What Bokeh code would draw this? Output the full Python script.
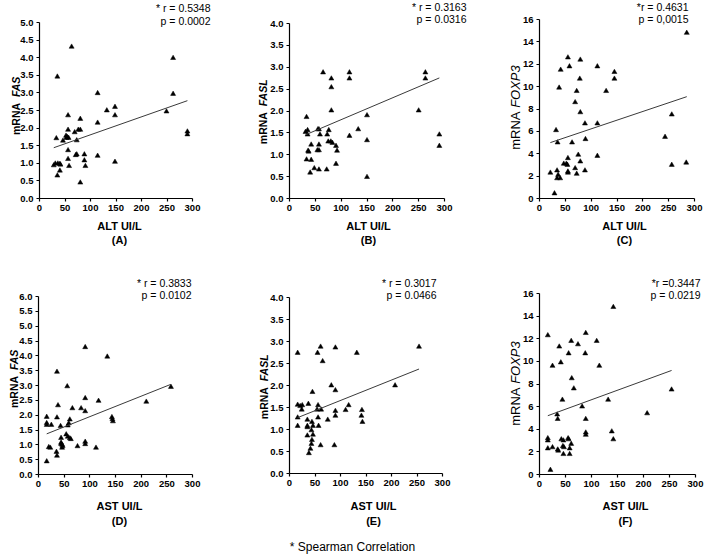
from bokeh.plotting import figure
from bokeh.models import Label, Range1d, FixedTicker, NumeralTickFormatter, ColumnDataSource
from bokeh.layouts import column, row
from bokeh.embed import file_html
from bokeh.resources import INLINE
import numpy as np

FONT = "Liberation Sans"

# ---------------- data ----------------
x_ticks = [0, 50, 100, 150, 200, 250, 300]
fas_ticks = [0.0, 0.5, 1.0, 1.5, 2.0, 2.5, 3.0, 3.5, 4.0, 4.5, 5.0]
fasl_ticks = [0.0, 0.5, 1.0, 1.5, 2.0, 2.5, 3.0, 3.5, 4.0]
foxp3_ticks = [0, 2, 4, 6, 8, 10, 12, 14, 16]
fas_d_ticks = [0.0, 0.5, 1.0, 1.5, 2.0, 2.5, 3.0, 3.5, 4.0, 4.5, 5.0, 5.5, 6.0]

# (A) ALT vs FAS
alt_a = [63, 35, 262, 262, 114, 249, 132, 148, 148, 114, 56, 80, 76, 80, 69, 56, 52, 54,
         53, 57, 33, 46, 73, 290, 290, 56, 73, 71, 56, 88, 88, 90, 58, 114, 148, 28,
         31, 36, 40, 41, 40, 35, 80]
fas_a = [4.31, 3.46, 3.99, 2.97, 2.99, 2.47, 2.50, 2.60, 2.36, 2.15, 2.36, 2.26, 1.95, 1.95,
         1.88, 1.95, 1.78, 1.75, 1.72, 1.72, 1.71, 1.64, 1.65, 1.90, 1.82, 1.37, 1.25, 1.23,
         1.12, 1.25, 1.08, 0.92, 0.92, 1.21, 1.04, 0.94, 0.99, 0.99, 0.98, 0.96, 0.79, 0.65, 0.45]
fit_a = (0.0051, 1.30)

# (B) ALT vs FASL
alt_b = [65, 116, 116, 81, 81, 81, 263, 263, 250, 33, 150, 133, 55, 57, 35, 31, 35, 59,
         73, 76, 75, 80, 83, 90, 92, 116, 150, 290, 290, 42, 57, 36, 37, 54, 57, 33,
         42, 90, 48, 40, 57, 72, 150]
fasl_b = [2.88, 2.88, 2.74, 2.74, 2.54, 2.01, 2.88, 2.74, 2.01, 1.86, 1.90, 1.58, 1.58, 1.58,
          1.56, 1.52, 1.46, 1.46, 1.46, 1.56, 1.30, 1.30, 1.27, 1.20, 1.09, 1.43, 1.33, 1.46,
          1.20, 1.23, 1.23, 1.09, 1.07, 1.10, 1.10, 0.89, 0.88, 0.79, 0.69, 0.59, 0.66, 0.66, 0.49]
fit_b = (0.00502, 1.30)

# (C) ALT vs FOXP3
alt_c = [285, 55, 79, 58, 112, 41, 145, 145, 78, 38, 72, 129, 69, 79, 256, 88, 112, 32,
         89, 243, 35, 63, 75, 112, 55, 79, 47, 52, 54, 256, 284, 69, 34, 88, 55, 55,
         21, 72, 36, 34, 40, 29]
foxp3_c = [14.8, 12.6, 12.4, 11.8, 11.8, 11.5, 11.3, 10.7, 10.7, 9.9, 9.6, 9.6, 8.6, 7.7,
           7.5, 6.7, 6.7, 6.1, 5.3, 5.5, 5.0, 5.0, 3.9, 3.8, 3.6, 3.3, 3.1, 3.1, 3.0, 3.0,
           3.2, 2.7, 2.5, 2.5, 2.4, 2.3, 2.3, 2.2, 2.1, 1.8, 1.8, 0.45]
fit_c = (0.01555, 4.67)

# (D) AST vs FAS
ast_d = [91, 134, 36, 56, 258, 91, 117, 210, 38, 66, 83, 91, 16, 36, 143, 144, 145, 16,
         16, 25, 43, 61, 59, 57, 44, 44, 44, 46, 47, 46, 54, 57, 61, 63, 76, 91,
         91, 112, 23, 20, 35, 36, 16]
fas_d = [4.29, 3.97, 3.46, 2.97, 2.95, 2.57, 2.48, 2.45, 2.33, 2.23, 2.23, 2.13, 1.94, 1.92,
         1.93, 1.86, 1.79, 1.73, 1.67, 1.67, 1.63, 1.85, 1.72, 1.65, 1.23, 1.07, 1.03, 1.00,
         0.96, 0.90, 1.35, 1.27, 1.22, 1.19, 0.95, 1.10, 1.02, 0.90, 0.90, 0.92, 0.76, 0.63, 0.44]
fit_d = (0.0069, 1.26)

# (E) AST vs FASL
ast_e = [61, 90, 254, 16, 55, 132, 65, 82, 90, 45, 207, 16, 37, 21, 25, 24, 56, 54,
         62, 116, 110, 142, 90, 90, 141, 143, 16, 56, 75, 35, 44, 16, 35, 35, 46, 57,
         43, 35, 46, 44, 43, 41, 38, 61, 88]
fasl_e = [2.88, 2.86, 2.88, 2.74, 2.74, 2.74, 2.55, 2.00, 1.89, 1.85, 2.00, 1.56, 1.58, 1.53,
          1.55, 1.45, 1.55, 1.45, 1.45, 1.55, 1.44, 1.44, 1.42, 1.31, 1.31, 1.17, 1.27, 1.27,
          1.22, 1.22, 1.17, 1.08, 1.08, 1.05, 1.08, 1.08, 0.98, 0.86, 0.88, 0.76, 0.67, 0.56,
          0.46, 0.64, 0.64]
fit_e = (0.00464, 1.196)

# (F) AST vs FOXP3
ast_f = [142, 16, 89, 61, 110, 38, 74, 56, 88, 41, 25, 115, 62, 66, 254, 44, 132, 82,
         207, 34, 35, 89, 139, 142, 89, 89, 16, 16, 42, 46, 55, 56, 45, 47, 61, 58,
         25, 16, 35, 36, 46, 58, 21]
foxp3_f = [14.8, 12.3, 12.5, 11.8, 11.8, 11.3, 11.5, 10.7, 10.7, 9.9, 9.6, 9.6, 8.5, 7.6,
           7.5, 6.6, 6.6, 6.0, 5.4, 5.3, 4.9, 4.9, 3.8, 3.1, 3.7, 3.5, 3.2, 3.0, 3.1, 3.0,
           3.2, 3.1, 2.5, 2.4, 2.7, 2.3, 2.4, 2.3, 2.2, 2.1, 1.8, 1.8, 0.4]
fit_f = (0.0168, 4.93)

# ---------------- helpers ----------------
BOLD_W = {"m": 0.889, "R": 0.722, "N": 0.722, "A": 0.722, "F": 0.611, "S": 0.667,
          "L": 0.611, "O": 0.778, "X": 0.667, "P": 0.667, "3": 0.556}
REG_W = {"m": 0.833, "R": 0.722, "N": 0.722, "A": 0.667, "F": 0.611, "S": 0.667,
         "L": 0.556, "O": 0.778, "X": 0.667, "P": 0.667, "3": 0.556}


def text_w(s, size, bold):
    tbl = BOLD_W if bold else REG_W
    return sum(tbl.get(c, 0.6) for c in s) * size


def make_panel(x, y, fit, yticks, yfmt, g, annot, xlab, sub, ylab_gene, ylab_size, ylab_bold):
    # data box (page px) and figure box (page px)
    fl, fw, ft, fh = g["frame"]
    figl, figw, figt, figh = g["fig"]
    mbl = fl - figl
    mbr = figl + figw - (fl + fw)
    mbt = ft - figt
    mbb = figt + figh - (ft + fh)
    y0, y1 = yticks[0], yticks[-1]
    kx = 300.0 / fw
    ky = (y1 - y0) / fh
    p = figure(width=figw, height=figh,
               min_border_left=0, min_border_right=0, min_border_top=0, min_border_bottom=0,
               x_range=Range1d(-mbl * kx, 300 + mbr * kx),
               y_range=Range1d(y0 - mbb * ky, y1 + mbt * ky),
               output_backend="svg", toolbar_location=None)
    p.outline_line_color = None
    p.grid.visible = False
    p.background_fill_color = "white"
    p.border_fill_color = "white"
    p.xaxis.fixed_location = y0
    p.yaxis.fixed_location = 0
    p.xaxis.bounds = (0, 300)
    p.yaxis.bounds = (y0, y1)
    for ax in (p.xaxis[0], p.yaxis[0]):
        ax.axis_line_color = "black"
        ax.axis_line_width = 1.2
        ax.major_tick_line_color = "black"
        ax.major_tick_line_width = 1.2
        ax.major_tick_in = 0
        ax.major_tick_out = 3
        ax.minor_tick_line_color = None
        ax.major_label_text_font = FONT
        ax.major_label_text_font_style = "bold"
        ax.major_label_text_font_size = "9.5px"
        ax.major_label_text_color = "black"
        ax.major_label_standoff = 3
    p.xaxis.ticker = FixedTicker(ticks=x_ticks)
    p.yaxis.ticker = FixedTicker(ticks=yticks)
    p.yaxis.formatter = NumeralTickFormatter(format=yfmt)

    src = ColumnDataSource(dict(x=x, y=y))
    p.scatter("x", "y", source=src, marker="triangle", size=5,
              fill_color="black", line_color="black", line_width=0.5)
    slope, icpt = fit
    xs = np.array([min(x), max(x)], dtype=float)
    p.line(xs, slope * xs + icpt, line_color="#3a3a3a", line_width=1)

    fb = figt + figh

    def lab(text, px, py, align, size, style="normal", angle=0.0, baseline="middle"):
        p.add_layout(Label(x=px - figl, y=fb - py, x_units="screen", y_units="screen",
                           text=text, text_align=align, text_baseline=baseline,
                           text_font=FONT, text_font_size=f"{size}px",
                           text_font_style=style, text_color="black", angle=angle))

    # correlation annotation
    (t1, t2), (ax_r, ya, yb) = annot
    lab(t1, ax_r, ya, "right", 10.5)
    lab(t2, ax_r, yb, "right", 10.5)
    # x label
    xl_x, xl_y1, xl_y2 = g["xlab"]
    lab(xlab, xl_x, xl_y1, "center", 11, "bold")
    lab(sub, xl_x, xl_y2, "center", 11, "bold")
    # y label: "mRNA" + italic gene
    yl_x, yl_c = g["ylab"]
    gap = (0.556 if ylab_bold else 0.278) * ylab_size
    wm = text_w("mRNA", ylab_size, ylab_bold)
    wg = text_w(ylab_gene, ylab_size, ylab_bold)
    total = wm + gap + wg
    ybot = yl_c + total / 2  # page y of the bottom end of the label
    st = "bold" if ylab_bold else "normal"
    lab("mRNA", yl_x, ybot - wm, "right", ylab_size, st, np.pi / 2)
    lab(ylab_gene, yl_x, ybot - wm - gap, "left", ylab_size,
        "bold italic" if ylab_bold else "italic", np.pi / 2)
    return p, lab


geo = {
    "A": {"frame": (39, 153, 22, 176), "fig": (0, 235, 0, 270), "xlab": (119, 225, 239), "ylab": (15, 105)},
    "B": {"frame": (289, 155, 23, 175), "fig": (235, 235, 0, 270), "xlab": (368, 225, 239), "ylab": (262, 111)},
    "C": {"frame": (539, 155, 19, 179), "fig": (470, 234, 0, 270), "xlab": (624, 225, 239), "ylab": (515, 107)},
    "D": {"frame": (38, 154, 296, 178), "fig": (0, 235, 270, 284), "xlab": (119, 505, 520), "ylab": (13, 378)},
    "E": {"frame": (289, 153, 297, 176), "fig": (235, 235, 270, 284), "xlab": (373, 505, 520), "ylab": (263, 386)},
    "F": {"frame": (539, 156, 293, 181), "fig": (470, 234, 270, 284), "xlab": (625, 505, 520), "ylab": (515, 383)},
}

pa, _ = make_panel(alt_a, fas_a, fit_a, fas_ticks, "0.0", geo["A"],
                   (("* r = 0.5348", "p = 0.0002"), (210, 7, 20)), "ALT UI/L", "(A)", "FAS", 10.5, True)
pb, _ = make_panel(alt_b, fasl_b, fit_b, fasl_ticks, "0.0", geo["B"],
                   (("* r = 0.3163", "p = 0.0316"), (466, 6, 18)), "ALT UI/L", "(B)", "FASL", 10.5, True)
pc, _ = make_panel(alt_c, foxp3_c, fit_c, foxp3_ticks, "0", geo["C"],
                   (("*r = 0.4631", "p = 0,0015"), (688, 6, 18)), "ALT UI/L", "(C)", "FOXP3", 13, False)
pd, _ = make_panel(ast_d, fas_d, fit_d, fas_d_ticks, "0.0", geo["D"],
                   (("* r = 0.3833", "p = 0.0102"), (191, 282, 294)), "AST UI/L", "(D)", "FAS", 10.5, True)
pe, lab_e = make_panel(ast_e, fasl_e, fit_e, fasl_ticks, "0.0", geo["E"],
                       (("* r = 0.3017", "p = 0.0466"), (436, 282, 294)), "AST UI/L", "(E)", "FASL", 10.5, True)
pf, _ = make_panel(ast_f, foxp3_f, fit_f, foxp3_ticks, "0", geo["F"],
                   (("*r =0.3447", "p = 0.0219"), (700, 282, 294)), "AST UI/L", "(F)", "FOXP3", 13, False)

lab_e("* Spearman Correlation", 352, 546, "center", 12)

layout = column(row(pa, pb, pc), row(pd, pe, pf))
open("out.html", "w").write(file_html(layout, INLINE))
